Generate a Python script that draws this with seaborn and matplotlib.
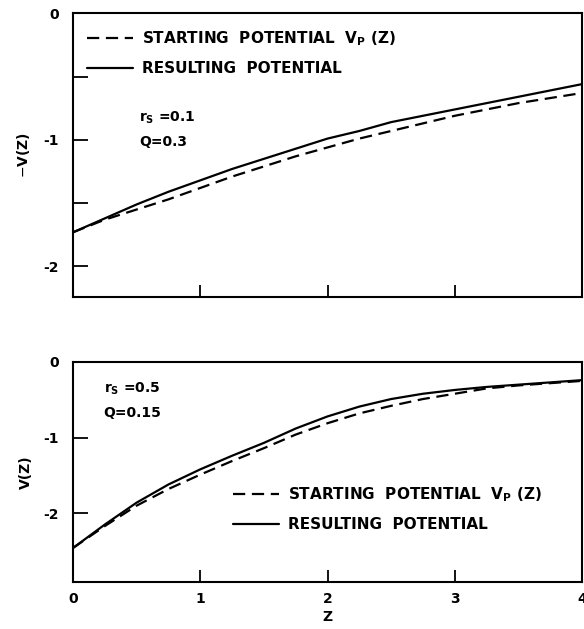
import matplotlib
matplotlib.use("Agg")
import matplotlib.pyplot as plt
import seaborn as sns
import pandas as pd
from matplotlib.ticker import FixedLocator
from matplotlib.lines import Line2D

sns.set_theme(style="white")
plt.rcParams['font.family'] = ['DejaVu Sans']
plt.rcParams['text.color'] = 'black'
plt.rcParams['axes.labelcolor'] = 'black'
plt.rcParams['xtick.color'] = 'black'
plt.rcParams['ytick.color'] = 'black'

z = [0.0, 0.25, 0.5, 0.75, 1.0, 1.25, 1.5, 1.75, 2.0, 2.25, 2.5, 2.75, 3.0, 3.25, 3.5, 3.75, 4.0]

# top panel (r_s = 0.1, Q = 0.3): -V(Z)
top_start = [-1.73, -1.63, -1.55, -1.47, -1.38, -1.29, -1.21, -1.13, -1.06, -0.99, -0.93, -0.87, -0.81, -0.76, -0.71, -0.67, -0.63]
top_result = [-1.73, -1.62, -1.51, -1.41, -1.32, -1.23, -1.15, -1.07, -0.99, -0.93, -0.86, -0.81, -0.76, -0.71, -0.66, -0.61, -0.56]

# bottom panel (r_s = 0.5, Q = 0.15): V(Z)
bot_start = [-2.46, -2.17, -1.90, -1.68, -1.49, -1.31, -1.14, -0.96, -0.81, -0.68, -0.58, -0.49, -0.42, -0.35, -0.31, -0.28, -0.25]
bot_result = [-2.46, -2.15, -1.86, -1.62, -1.42, -1.24, -1.07, -0.88, -0.72, -0.59, -0.49, -0.42, -0.37, -0.33, -0.30, -0.27, -0.24]

lab_start = "STARTING  POTENTIAL  V$_\\mathregular{P}$ (Z)"
lab_result = "RESULTING  POTENTIAL"
DASH = (5.5, 3.0)

fig = plt.figure(figsize=(5.84, 6.29), dpi=100)
ax1 = fig.add_axes([0.125, 0.528, 0.8716, 0.451])
ax2 = fig.add_axes([0.125, 0.0747, 0.8716, 0.3498])

def panel(ax, start, result, ylim, yticks, minor):
    df = pd.DataFrame({
        "Z": z + z,
        "V": start + result,
        "curve": [lab_start] * len(z) + [lab_result] * len(z),
    })
    sns.lineplot(data=df, x="Z", y="V", style="curve",
                 dashes={lab_start: DASH, lab_result: ""},
                 color="black", linewidth=1.6, ax=ax, legend=False)
    ax.set_xlim(0, 4)
    ax.set_ylim(*ylim)
    for s in ax.spines.values():
        s.set_color("black")
        s.set_linewidth(1.5)
    ax.set_yticks(yticks)
    ax.set_yticklabels(["0" if t == 0 else "-%d" % abs(t) for t in yticks],
                       fontsize=10, fontweight="bold")
    if minor:
        ax.yaxis.set_minor_locator(FixedLocator(minor))
    ax.tick_params(axis="y", which="both", direction="in", length=11, width=1.3,
                   left=True, pad=10)
    ax.tick_params(axis="x", direction="in", length=9, width=1.3, bottom=True)
    ax.set_xticks([0, 1, 2, 3, 4])
    ax.set_xlabel("")
    ax.set_facecolor("white")

panel(ax1, top_start, top_result, (-2.24, 0), [0, -1, -2], [-0.5, -1.5])
panel(ax2, bot_start, bot_result, (-2.91, 0), [0, -1, -2], None)

ax1.set_xticklabels([])
ax2.set_xticklabels(["0", "1", "2", "3", "4"], fontsize=10, fontweight="bold")
ax2.tick_params(axis="x", pad=7)
ax2.set_xlabel("Z", fontsize=10, fontweight="bold", labelpad=3)
ax1.set_ylabel("$-$V(Z)", fontsize=10, fontweight="bold", labelpad=8)
ax2.set_ylabel("V(Z)", fontsize=10, fontweight="bold", labelpad=8)

h = [Line2D([], [], color="black", lw=1.6, dashes=DASH),
     Line2D([], [], color="black", lw=1.6)]
ax1.legend(h, [lab_start, lab_result], loc="upper left",
           bbox_to_anchor=(0.0, 0.99), frameon=False, handlelength=3.0,
           handletextpad=0.6, labelspacing=0.85,
           prop={"size": 11, "weight": "bold"})
ax2.legend(h, [lab_start, lab_result], loc="upper left",
           bbox_to_anchor=(0.288, 0.50), frameon=False, handlelength=3.0,
           handletextpad=0.6, labelspacing=0.85,
           prop={"size": 11, "weight": "bold"})

ax1.text(0.13, 0.63, "r$_\\mathregular{S}$ =0.1", transform=ax1.transAxes,
         fontsize=10, fontweight="bold", va="center")
ax1.text(0.13, 0.545, "Q=0.3", transform=ax1.transAxes,
         fontsize=10, fontweight="bold", va="center")
ax2.text(0.06, 0.88, "r$_\\mathregular{S}$ =0.5", transform=ax2.transAxes,
         fontsize=10, fontweight="bold", va="center")
ax2.text(0.06, 0.77, "Q=0.15", transform=ax2.transAxes,
         fontsize=10, fontweight="bold", va="center")

fig.savefig("out.png", dpi=100, facecolor="white")
